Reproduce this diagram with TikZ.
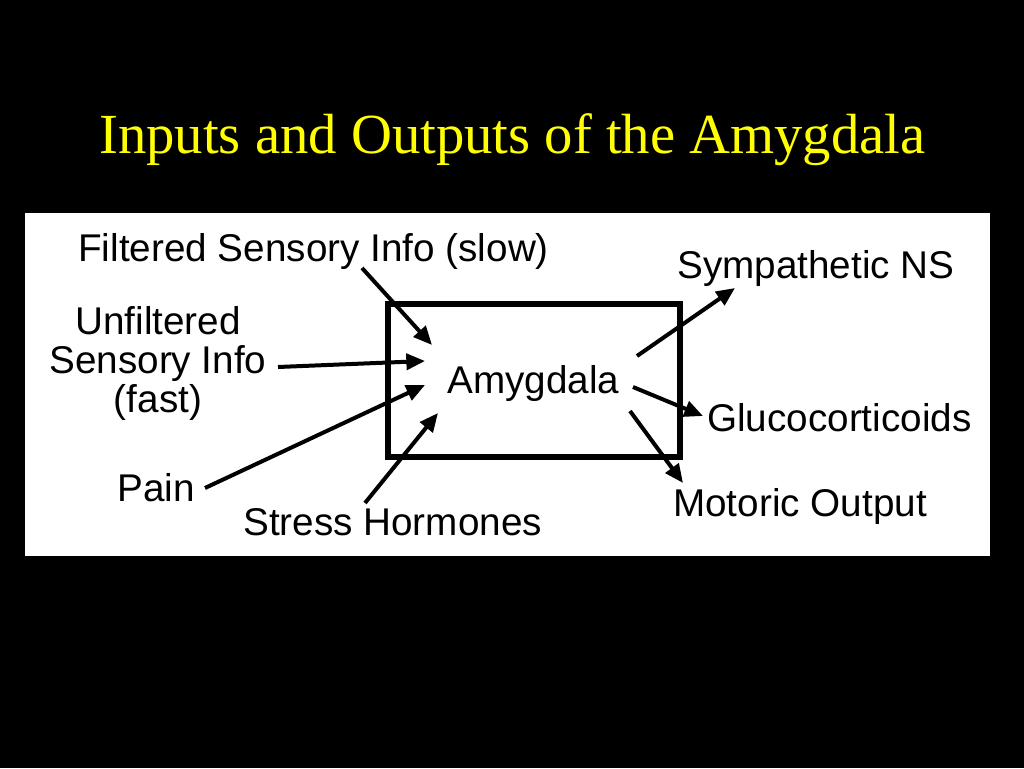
\documentclass[tikz,border=0pt]{standalone}
\usepackage{fontspec}
\setmainfont{Liberation Serif}
\newfontfamily\labfont{Liberation Sans}
\usetikzlibrary{arrows.meta}
\definecolor{ttl}{RGB}{255,255,0}
\begin{document}
\begin{tikzpicture}[x=0.75pt,y=-0.75pt,
  lab/.style={font=\labfont\fontsize{29}{29}\selectfont, inner sep=0pt, text=black},
  arr/.style={line width=3pt, -{Triangle[length=14pt,width=12pt]}}]
\useasboundingbox (0,0) rectangle (1024,768);
\fill[black] (0,0) rectangle (1024,768);
\fill[white] (25,213) rectangle (990,556);
\node[anchor=base west, inner sep=0pt, text=ttl, font=\fontsize{42.5}{50}\selectfont] (title) at (99,153) {Inputs and Outputs of the Amygdala};
% box
\node[draw, line width=4.5pt, minimum width=219pt, minimum height=114.75pt, inner sep=0pt] (box) at (534,380.5) {};
\node[lab, anchor=base west] (amyg) at (447,393) {Amygdala};
% inputs
\node[lab, anchor=base west] (filt) at (78,261) {Filtered Sensory Info (slow)};
\node[lab, align=center] (unf) at (158,363.5) {Unfiltered\\Sensory Info\\(fast)};
\node[lab, anchor=base west] (pain) at (117,501) {Pain};
\node[lab, anchor=base west] (stress) at (243,535) {Stress Hormones};
% outputs
\node[lab, anchor=base west] (symp) at (677,278) {Sympathetic NS};
\node[lab, anchor=base west] (gluco) at (707,431) {Glucocorticoids};
\node[lab, anchor=base west] (motor) at (673,516) {Motoric Output};
% arrow ends
\coordinate (f1) at (362,268); \coordinate (f2) at (432,345);
\coordinate (u1) at (278,367); \coordinate (u2) at (425,361);
\coordinate (p1) at (205,488); \coordinate (p2) at (425,385);
\coordinate (s1) at (365,503); \coordinate (s2) at (438,413);
\coordinate (y1) at (637,356); \coordinate (y2) at (735,288);
\coordinate (g1) at (633,387); \coordinate (g2) at (703,416);
\coordinate (m1) at (630,411); \coordinate (m2) at (683,483);
\draw[arr] (f1) -- (f2);
\draw[arr] (u1) -- (u2);
\draw[arr] (p1) -- (p2);
\draw[arr] (s1) -- (s2);
\draw[arr] (y1) -- (y2);
\draw[arr] (g1) -- (g2);
\draw[arr] (m1) -- (m2);
\end{tikzpicture}
\end{document}
